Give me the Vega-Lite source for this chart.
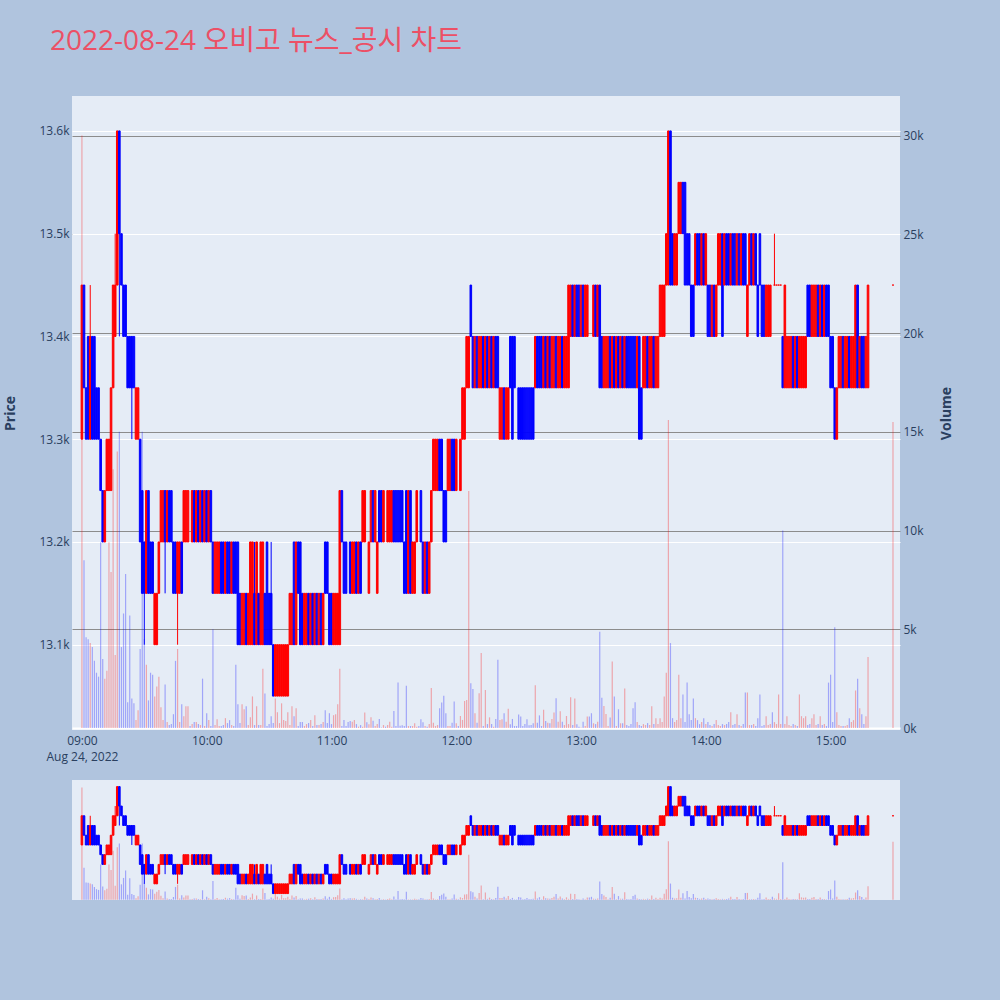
{
"$schema": "https://vega.github.io/schema/vega-lite/v6.json",
"background": "#B0C4DE",
"padding": {"left": 3, "top": 28, "right": 47, "bottom": 100},
"title": {"text": "2022-08-24 오비고 뉴스_공시 차트", "anchor": "start", "dx": 47, "offset": 12, "baseline": "bottom", "fontSize": 28, "fontWeight": "normal", "color": "#EC5066", "font": "Open Sans, Noto Sans CJK KR"},
"config": {
  "view": {"fill": "#E5ECF6", "stroke": null},
  "axis": {"labelFont": "Open Sans", "titleFont": "Open Sans", "labelColor": "#2a3f5f", "titleColor": "#2a3f5f", "labelFontSize": 12, "titleFontSize": 14, "domain": false, "ticks": false}
},
"data": {"values": [
{"t":"2022-08-24 09:00","o":13300,"c":13450,"v":30000},
{"t":"2022-08-24 09:01","o":13450,"c":13350,"v":8500},
{"t":"2022-08-24 09:02","o":13350,"c":13300,"v":4600},
{"t":"2022-08-24 09:03","o":13400,"c":13300,"v":4500},
{"t":"2022-08-24 09:04","o":13300,"c":13400,"h":13450,"l":13300,"v":4300},
{"t":"2022-08-24 09:05","o":13400,"c":13300,"v":4100},
{"t":"2022-08-24 09:06","o":13400,"c":13300,"v":3400},
{"t":"2022-08-24 09:07","o":13350,"c":13300,"v":2800},
{"t":"2022-08-24 09:08","o":13350,"c":13300,"v":2600},
{"t":"2022-08-24 09:09","o":13300,"c":13250,"v":9400},
{"t":"2022-08-24 09:10","o":13250,"c":13200,"v":3500},
{"t":"2022-08-24 09:11","o":13200,"c":13250,"v":2500},
{"t":"2022-08-24 09:12","o":13250,"c":13300,"v":2900},
{"t":"2022-08-24 09:13","o":13250,"c":13300,"v":9400},
{"t":"2022-08-24 09:14","o":13250,"c":13350,"v":7900},
{"t":"2022-08-24 09:15","o":13350,"c":13450,"v":13100},
{"t":"2022-08-24 09:16","o":13400,"c":13450,"h":13500,"l":13400,"v":3700},
{"t":"2022-08-24 09:17","o":13450,"c":13600,"v":14000},
{"t":"2022-08-24 09:18","o":13600,"c":13500,"h":13600,"l":13400,"v":15000},
{"t":"2022-08-24 09:19","o":13500,"c":13450,"v":4100},
{"t":"2022-08-24 09:20","o":13450,"c":13400,"v":5800},
{"t":"2022-08-24 09:21","o":13450,"c":13400,"v":7800},
{"t":"2022-08-24 09:22","o":13400,"c":13350,"v":1300},
{"t":"2022-08-24 09:23","o":13400,"c":13350,"v":5700},
{"t":"2022-08-24 09:24","o":13400,"c":13350,"h":13400,"l":13300,"v":1500},
{"t":"2022-08-24 09:25","o":13400,"c":13350,"v":1250},
{"t":"2022-08-24 09:26","o":13300,"c":13350,"v":400},
{"t":"2022-08-24 09:27","o":13300,"c":13350,"v":900},
{"t":"2022-08-24 09:28","o":13300,"c":13200,"v":4000},
{"t":"2022-08-24 09:29","o":13250,"c":13150,"v":15000},
{"t":"2022-08-24 09:30","o":13200,"c":13150,"h":13200,"l":13100,"v":4500},
{"t":"2022-08-24 09:31","o":13150,"c":13250,"v":3200},
{"t":"2022-08-24 09:32","o":13250,"c":13150,"v":1400},
{"t":"2022-08-24 09:33","o":13200,"c":13150,"v":2800},
{"t":"2022-08-24 09:34","o":13200,"c":13150,"v":2700},
{"t":"2022-08-24 09:35","o":13100,"c":13150,"v":1600},
{"t":"2022-08-24 09:36","o":13100,"c":13150,"v":2100},
{"t":"2022-08-24 09:37","o":13150,"c":13200,"v":2600},
{"t":"2022-08-24 09:38","o":13200,"c":13250,"v":1050},
{"t":"2022-08-24 09:39","o":13200,"c":13250,"v":400},
{"t":"2022-08-24 09:40","o":13250,"c":13200,"h":13250,"l":13150,"v":2200},
{"t":"2022-08-24 09:41","o":13200,"c":13250,"v":300},
{"t":"2022-08-24 09:42","o":13250,"c":13200,"v":150},
{"t":"2022-08-24 09:43","o":13250,"c":13200,"v":200},
{"t":"2022-08-24 09:44","o":13200,"c":13150,"v":700},
{"t":"2022-08-24 09:45","o":13200,"c":13150,"v":3400},
{"t":"2022-08-24 09:46","o":13150,"c":13200,"h":13200,"l":13100,"v":4000},
{"t":"2022-08-24 09:47","o":13150,"c":13200,"v":300},
{"t":"2022-08-24 09:48","o":13200,"c":13150,"v":1200},
{"t":"2022-08-24 09:49","o":13200,"c":13250,"v":600},
{"t":"2022-08-24 09:50","o":13200,"c":13250,"v":1100},
{"t":"2022-08-24 09:51","o":13200,"c":13250,"v":1100},
{"t":"2022-08-24 09:52","v":100},
{"t":"2022-08-24 09:53","o":13200,"c":13250,"v":200},
{"t":"2022-08-24 09:54","o":13250,"c":13200,"v":300},
{"t":"2022-08-24 09:55","o":13200,"c":13250,"v":300},
{"t":"2022-08-24 09:56","o":13250,"c":13200,"v":200},
{"t":"2022-08-24 09:57","o":13200,"c":13250,"v":150},
{"t":"2022-08-24 09:58","o":13250,"c":13200,"v":2500},
{"t":"2022-08-24 09:59","o":13200,"c":13250,"v":100},
{"t":"2022-08-24 10:00","o":13250,"c":13200,"v":750},
{"t":"2022-08-24 10:01","o":13200,"c":13250,"v":400},
{"t":"2022-08-24 10:02","o":13250,"c":13200,"v":100},
{"t":"2022-08-24 10:03","o":13200,"c":13150,"v":5000},
{"t":"2022-08-24 10:04","o":13150,"c":13200,"v":150},
{"t":"2022-08-24 10:05","o":13150,"c":13200,"v":450},
{"t":"2022-08-24 10:06","o":13150,"c":13200,"v":100},
{"t":"2022-08-24 10:07","o":13200,"c":13150,"v":100},
{"t":"2022-08-24 10:08","o":13200,"c":13150,"v":150},
{"t":"2022-08-24 10:09","o":13150,"c":13200,"v":500},
{"t":"2022-08-24 10:10","o":13200,"c":13150,"v":250},
{"t":"2022-08-24 10:11","o":13200,"c":13150,"v":400},
{"t":"2022-08-24 10:12","o":13150,"c":13200,"v":150},
{"t":"2022-08-24 10:13","o":13200,"c":13150,"v":100},
{"t":"2022-08-24 10:14","o":13200,"c":13150,"v":3200},
{"t":"2022-08-24 10:15","o":13200,"c":13100,"v":1200},
{"t":"2022-08-24 10:16","o":13150,"c":13100,"v":250},
{"t":"2022-08-24 10:17","o":13100,"c":13150,"v":1200},
{"t":"2022-08-24 10:18","o":13100,"c":13150,"v":950},
{"t":"2022-08-24 10:19","o":13150,"c":13100,"v":1100},
{"t":"2022-08-24 10:20","o":13100,"c":13150,"v":150},
{"t":"2022-08-24 10:21","o":13100,"c":13200,"v":550},
{"t":"2022-08-24 10:22","o":13100,"c":13200,"v":1600},
{"t":"2022-08-24 10:23","o":13150,"c":13100,"h":13200,"l":13100,"v":150},
{"t":"2022-08-24 10:24","o":13100,"c":13200,"v":1100},
{"t":"2022-08-24 10:25","o":13150,"c":13100,"v":150},
{"t":"2022-08-24 10:26","o":13100,"c":13200,"v":150},
{"t":"2022-08-24 10:27","o":13100,"c":13200,"v":3000},
{"t":"2022-08-24 10:28","o":13150,"c":13100,"v":1750},
{"t":"2022-08-24 10:29","o":13200,"c":13100,"v":100},
{"t":"2022-08-24 10:30","o":13150,"c":13100,"v":200},
{"t":"2022-08-24 10:31","o":13150,"c":13100,"h":13200,"l":13100,"v":600},
{"t":"2022-08-24 10:32","o":13100,"c":13050,"v":250},
{"t":"2022-08-24 10:33","o":13050,"c":13100,"v":1500},
{"t":"2022-08-24 10:34","o":13050,"c":13100,"v":800},
{"t":"2022-08-24 10:35","o":13050,"c":13100,"v":250},
{"t":"2022-08-24 10:36","o":13050,"c":13100,"v":1250},
{"t":"2022-08-24 10:37","o":13050,"c":13100,"v":400},
{"t":"2022-08-24 10:38","o":13050,"c":13100,"v":350},
{"t":"2022-08-24 10:39","o":13050,"c":13100,"v":800},
{"t":"2022-08-24 10:40","o":13100,"c":13150,"v":150},
{"t":"2022-08-24 10:41","o":13100,"c":13150,"v":1100},
{"t":"2022-08-24 10:42","o":13200,"c":13100,"v":600},
{"t":"2022-08-24 10:43","o":13100,"c":13200,"v":1000},
{"t":"2022-08-24 10:44","o":13200,"c":13150,"v":100},
{"t":"2022-08-24 10:45","o":13200,"c":13100,"v":300},
{"t":"2022-08-24 10:46","o":13150,"c":13100,"v":300},
{"t":"2022-08-24 10:47","o":13100,"c":13150,"v":100},
{"t":"2022-08-24 10:48","o":13100,"c":13150,"v":200},
{"t":"2022-08-24 10:49","o":13150,"c":13100,"v":250},
{"t":"2022-08-24 10:50","o":13100,"c":13150,"v":400},
{"t":"2022-08-24 10:51","o":13150,"c":13100,"v":100},
{"t":"2022-08-24 10:52","o":13100,"c":13150,"v":650},
{"t":"2022-08-24 10:53","o":13150,"c":13100,"v":150},
{"t":"2022-08-24 10:54","o":13100,"c":13150,"v":150},
{"t":"2022-08-24 10:55","o":13150,"c":13100,"v":200},
{"t":"2022-08-24 10:56","o":13100,"c":13150,"v":300},
{"t":"2022-08-24 10:57","o":13200,"c":13150,"v":900},
{"t":"2022-08-24 10:58","o":13200,"c":13150,"v":250},
{"t":"2022-08-24 10:59","o":13150,"c":13100,"v":750},
{"t":"2022-08-24 11:00","o":13150,"c":13100,"v":200},
{"t":"2022-08-24 11:01","o":13100,"c":13150,"v":650},
{"t":"2022-08-24 11:02","o":13100,"c":13150,"v":700},
{"t":"2022-08-24 11:03","o":13100,"c":13150,"v":1200},
{"t":"2022-08-24 11:04","o":13100,"c":13250,"v":3000},
{"t":"2022-08-24 11:05","o":13250,"c":13200,"v":100},
{"t":"2022-08-24 11:06","o":13200,"c":13150,"v":400},
{"t":"2022-08-24 11:07","o":13200,"c":13150,"v":100},
{"t":"2022-08-24 11:08","v":300},
{"t":"2022-08-24 11:09","o":13200,"c":13150,"v":350},
{"t":"2022-08-24 11:10","o":13150,"c":13200,"v":320},
{"t":"2022-08-24 11:11","o":13150,"c":13200,"v":400},
{"t":"2022-08-24 11:12","o":13200,"c":13150,"v":200},
{"t":"2022-08-24 11:13","o":13150,"c":13200,"v":70},
{"t":"2022-08-24 11:14","o":13200,"c":13150,"v":150},
{"t":"2022-08-24 11:15","o":13200,"c":13250,"v":70},
{"t":"2022-08-24 11:16","o":13200,"c":13250,"v":780},
{"t":"2022-08-24 11:17","v":290},
{"t":"2022-08-24 11:18","o":13150,"c":13200,"v":190},
{"t":"2022-08-24 11:19","o":13200,"c":13250,"v":540},
{"t":"2022-08-24 11:20","o":13250,"c":13200,"v":370},
{"t":"2022-08-24 11:21","o":13200,"c":13250,"v":100},
{"t":"2022-08-24 11:22","o":13150,"c":13200,"v":200},
{"t":"2022-08-24 11:23","o":13250,"c":13200,"v":460},
{"t":"2022-08-24 11:24","o":13250,"c":13200,"v":30},
{"t":"2022-08-24 11:25","o":13200,"c":13250,"v":150},
{"t":"2022-08-24 11:26","v":70},
{"t":"2022-08-24 11:27","o":13200,"c":13250,"v":150},
{"t":"2022-08-24 11:28","o":13200,"c":13250,"v":320},
{"t":"2022-08-24 11:29","o":13200,"c":13250,"v":70},
{"t":"2022-08-24 11:30","o":13250,"c":13200,"v":860},
{"t":"2022-08-24 11:31","o":13250,"c":13200,"v":100},
{"t":"2022-08-24 11:32","o":13250,"c":13200,"v":2300},
{"t":"2022-08-24 11:33","o":13250,"c":13200,"v":120},
{"t":"2022-08-24 11:34","o":13250,"c":13200,"v":140},
{"t":"2022-08-24 11:35","o":13200,"c":13150,"v":100},
{"t":"2022-08-24 11:36","o":13250,"c":13150,"v":2140},
{"t":"2022-08-24 11:37","o":13150,"c":13250,"v":100},
{"t":"2022-08-24 11:38","o":13250,"c":13150,"v":100},
{"t":"2022-08-24 11:39","o":13150,"c":13200,"v":100},
{"t":"2022-08-24 11:40","o":13150,"c":13200,"v":240},
{"t":"2022-08-24 11:41","o":13200,"c":13250,"v":70},
{"t":"2022-08-24 11:42","v":100},
{"t":"2022-08-24 11:43","o":13250,"c":13200,"v":440},
{"t":"2022-08-24 11:44","o":13200,"c":13150,"v":290},
{"t":"2022-08-24 11:45","o":13150,"c":13200,"v":100},
{"t":"2022-08-24 11:46","o":13200,"c":13150,"v":70},
{"t":"2022-08-24 11:47","o":13150,"c":13200,"v":200},
{"t":"2022-08-24 11:48","o":13200,"c":13250,"v":2030},
{"t":"2022-08-24 11:49","o":13250,"c":13300,"v":270},
{"t":"2022-08-24 11:50","o":13250,"c":13300,"v":100},
{"t":"2022-08-24 11:51","o":13250,"c":13300,"v":150},
{"t":"2022-08-24 11:52","o":13300,"c":13250,"v":1000},
{"t":"2022-08-24 11:53","o":13300,"c":13250,"v":1290},
{"t":"2022-08-24 11:54","o":13250,"c":13200,"v":1630},
{"t":"2022-08-24 11:55","o":13250,"c":13200,"v":750},
{"t":"2022-08-24 11:56","o":13250,"c":13300,"v":100},
{"t":"2022-08-24 11:57","o":13250,"c":13300,"v":100},
{"t":"2022-08-24 11:58","o":13300,"c":13250,"v":270},
{"t":"2022-08-24 11:59","o":13300,"c":13250,"v":1340},
{"t":"2022-08-24 12:00","o":13250,"c":13300,"v":240},
{"t":"2022-08-24 12:01","v":100},
{"t":"2022-08-24 12:02","o":13250,"c":13300,"v":610},
{"t":"2022-08-24 12:03","o":13300,"c":13350,"v":410},
{"t":"2022-08-24 12:04","o":13300,"c":13350,"v":1370},
{"t":"2022-08-24 12:05","o":13350,"c":13400,"v":1420},
{"t":"2022-08-24 12:06","o":13350,"c":13400,"v":12000},
{"t":"2022-08-24 12:07","o":13450,"c":13400,"v":2270},
{"t":"2022-08-24 12:08","o":13400,"c":13350,"v":1970},
{"t":"2022-08-24 12:09","o":13350,"c":13400,"v":750},
{"t":"2022-08-24 12:10","o":13400,"c":13350,"v":270},
{"t":"2022-08-24 12:11","o":13350,"c":13400,"v":1760},
{"t":"2022-08-24 12:12","o":13350,"c":13400,"v":3800},
{"t":"2022-08-24 12:13","o":13400,"c":13350,"v":100},
{"t":"2022-08-24 12:14","o":13350,"c":13400,"v":1930},
{"t":"2022-08-24 12:15","o":13400,"c":13350,"v":200},
{"t":"2022-08-24 12:16","o":13350,"c":13400,"v":540},
{"t":"2022-08-24 12:17","o":13400,"c":13350,"v":200},
{"t":"2022-08-24 12:18","o":13350,"c":13400,"v":70},
{"t":"2022-08-24 12:19","o":13400,"c":13350,"v":460},
{"t":"2022-08-24 12:20","o":13400,"c":13350,"v":3460},
{"t":"2022-08-24 12:21","o":13300,"c":13350,"v":410},
{"t":"2022-08-24 12:22","o":13300,"c":13350,"v":440},
{"t":"2022-08-24 12:23","o":13350,"c":13300,"v":750},
{"t":"2022-08-24 12:24","o":13300,"c":13350,"v":320},
{"t":"2022-08-24 12:25","o":13300,"c":13350,"v":980},
{"t":"2022-08-24 12:26","o":13400,"c":13350,"v":190},
{"t":"2022-08-24 12:27","o":13400,"c":13300,"v":460},
{"t":"2022-08-24 12:28","o":13400,"c":13350,"v":100},
{"t":"2022-08-24 12:29","v":100},
{"t":"2022-08-24 12:30","o":13350,"c":13300,"v":690},
{"t":"2022-08-24 12:31","o":13350,"c":13300,"v":580},
{"t":"2022-08-24 12:32","o":13350,"c":13300,"v":100},
{"t":"2022-08-24 12:33","o":13350,"c":13300,"v":200},
{"t":"2022-08-24 12:34","o":13350,"c":13300,"v":440},
{"t":"2022-08-24 12:35","o":13350,"c":13300,"v":140},
{"t":"2022-08-24 12:36","o":13350,"c":13300,"v":150},
{"t":"2022-08-24 12:37","o":13350,"c":13300,"v":240},
{"t":"2022-08-24 12:38","o":13350,"c":13400,"v":2170},
{"t":"2022-08-24 12:39","o":13400,"c":13350,"v":270},
{"t":"2022-08-24 12:40","o":13400,"c":13350,"v":640},
{"t":"2022-08-24 12:41","o":13400,"c":13350,"v":100},
{"t":"2022-08-24 12:42","o":13350,"c":13400,"v":920},
{"t":"2022-08-24 12:43","o":13400,"c":13350,"v":360},
{"t":"2022-08-24 12:44","o":13350,"c":13400,"v":270},
{"t":"2022-08-24 12:45","o":13400,"c":13350,"v":240},
{"t":"2022-08-24 12:46","o":13350,"c":13400,"v":460},
{"t":"2022-08-24 12:47","o":13350,"c":13400,"v":780},
{"t":"2022-08-24 12:48","o":13400,"c":13350,"v":1510},
{"t":"2022-08-24 12:49","o":13350,"c":13400,"v":320},
{"t":"2022-08-24 12:50","o":13350,"c":13400,"v":850},
{"t":"2022-08-24 12:51","o":13400,"c":13350,"v":320},
{"t":"2022-08-24 12:52","o":13350,"c":13400,"v":150},
{"t":"2022-08-24 12:53","o":13350,"c":13400,"v":610},
{"t":"2022-08-24 12:54","o":13350,"c":13450,"v":200},
{"t":"2022-08-24 12:55","o":13400,"c":13450,"v":1560},
{"t":"2022-08-24 12:56","o":13450,"c":13400,"v":150},
{"t":"2022-08-24 12:57","o":13400,"c":13450,"v":1490},
{"t":"2022-08-24 12:58","o":13450,"c":13400,"v":190},
{"t":"2022-08-24 12:59","o":13450,"c":13400,"v":70},
{"t":"2022-08-24 13:00","o":13400,"c":13450,"v":30},
{"t":"2022-08-24 13:01","o":13450,"c":13400,"v":320},
{"t":"2022-08-24 13:02","o":13400,"c":13450,"v":100},
{"t":"2022-08-24 13:03","o":13400,"c":13450,"v":580},
{"t":"2022-08-24 13:04","v":580},
{"t":"2022-08-24 13:05","v":750},
{"t":"2022-08-24 13:06","o":13400,"c":13450,"v":240},
{"t":"2022-08-24 13:07","o":13450,"c":13400,"v":200},
{"t":"2022-08-24 13:08","o":13400,"c":13450,"v":320},
{"t":"2022-08-24 13:09","o":13450,"c":13350,"v":4880},
{"t":"2022-08-24 13:10","o":13400,"c":13350,"v":1530},
{"t":"2022-08-24 13:11","o":13350,"c":13400,"v":1120},
{"t":"2022-08-24 13:12","o":13350,"c":13400,"v":710},
{"t":"2022-08-24 13:13","o":13350,"c":13400,"v":100},
{"t":"2022-08-24 13:14","o":13400,"c":13350,"v":530},
{"t":"2022-08-24 13:15","o":13350,"c":13400,"v":3370},
{"t":"2022-08-24 13:16","o":13400,"c":13350,"v":1590},
{"t":"2022-08-24 13:17","o":13350,"c":13400,"v":100},
{"t":"2022-08-24 13:18","o":13400,"c":13350,"v":950},
{"t":"2022-08-24 13:19","o":13350,"c":13400,"v":240},
{"t":"2022-08-24 13:20","o":13400,"c":13350,"v":240},
{"t":"2022-08-24 13:21","o":13350,"c":13400,"v":2000},
{"t":"2022-08-24 13:22","o":13400,"c":13350,"v":150},
{"t":"2022-08-24 13:23","o":13400,"c":13350,"v":100},
{"t":"2022-08-24 13:24","o":13400,"c":13350,"v":200},
{"t":"2022-08-24 13:25","o":13400,"c":13350,"v":1000},
{"t":"2022-08-24 13:26","o":13400,"c":13350,"v":1300},
{"t":"2022-08-24 13:27","o":13350,"c":13400,"v":300},
{"t":"2022-08-24 13:28","o":13400,"c":13300,"v":150},
{"t":"2022-08-24 13:29","o":13350,"c":13300,"v":100},
{"t":"2022-08-24 13:30","o":13350,"c":13400,"v":200},
{"t":"2022-08-24 13:31","o":13350,"c":13400,"v":150},
{"t":"2022-08-24 13:32","o":13400,"c":13350,"v":250},
{"t":"2022-08-24 13:33","o":13350,"c":13400,"v":150},
{"t":"2022-08-24 13:34","o":13350,"c":13400,"v":1100},
{"t":"2022-08-24 13:35","o":13400,"c":13350,"v":200},
{"t":"2022-08-24 13:36","o":13350,"c":13400,"v":500},
{"t":"2022-08-24 13:37","o":13350,"c":13400,"v":200},
{"t":"2022-08-24 13:38","o":13400,"c":13450,"v":500},
{"t":"2022-08-24 13:39","o":13400,"c":13450,"v":300},
{"t":"2022-08-24 13:40","o":13400,"c":13450,"v":1600},
{"t":"2022-08-24 13:41","o":13450,"c":13500,"v":2800},
{"t":"2022-08-24 13:42","o":13450,"c":13600,"v":15600},
{"t":"2022-08-24 13:43","o":13600,"c":13450,"v":4300},
{"t":"2022-08-24 13:44","o":13500,"c":13450,"v":500},
{"t":"2022-08-24 13:45","o":13450,"c":13500,"v":300},
{"t":"2022-08-24 13:46","o":13450,"c":13500,"v":400},
{"t":"2022-08-24 13:47","o":13500,"c":13550,"v":2700},
{"t":"2022-08-24 13:48","o":13500,"c":13550,"v":500},
{"t":"2022-08-24 13:49","o":13550,"c":13500,"v":1700},
{"t":"2022-08-24 13:50","o":13550,"c":13450,"v":300},
{"t":"2022-08-24 13:51","o":13500,"c":13450,"v":2300},
{"t":"2022-08-24 13:52","o":13500,"c":13450,"v":700},
{"t":"2022-08-24 13:53","o":13450,"c":13400,"v":400},
{"t":"2022-08-24 13:54","o":13450,"c":13400,"v":1500},
{"t":"2022-08-24 13:55","o":13450,"c":13500,"v":500},
{"t":"2022-08-24 13:56","o":13500,"c":13450,"v":400},
{"t":"2022-08-24 13:57","o":13500,"c":13450,"v":200},
{"t":"2022-08-24 13:58","o":13450,"c":13500,"v":300},
{"t":"2022-08-24 13:59","o":13500,"c":13450,"v":500},
{"t":"2022-08-24 14:00","o":13450,"c":13500,"v":200},
{"t":"2022-08-24 14:01","o":13450,"c":13400,"v":300},
{"t":"2022-08-24 14:02","o":13450,"c":13400,"v":150},
{"t":"2022-08-24 14:03","o":13400,"c":13450,"v":100},
{"t":"2022-08-24 14:04","o":13450,"c":13400,"v":200},
{"t":"2022-08-24 14:05","o":13400,"c":13450,"v":400},
{"t":"2022-08-24 14:06","o":13450,"c":13500,"v":150},
{"t":"2022-08-24 14:07","o":13450,"c":13500,"v":100},
{"t":"2022-08-24 14:08","o":13500,"c":13400,"v":200},
{"t":"2022-08-24 14:09","o":13450,"c":13500,"v":150},
{"t":"2022-08-24 14:10","o":13500,"c":13450,"v":200},
{"t":"2022-08-24 14:11","o":13500,"c":13450,"v":300},
{"t":"2022-08-24 14:12","o":13450,"c":13500,"v":800},
{"t":"2022-08-24 14:13","o":13500,"c":13450,"v":150},
{"t":"2022-08-24 14:14","o":13500,"c":13450,"v":200},
{"t":"2022-08-24 14:15","o":13450,"c":13500,"v":700},
{"t":"2022-08-24 14:16","o":13500,"c":13450,"v":150},
{"t":"2022-08-24 14:17","o":13450,"c":13500,"v":100},
{"t":"2022-08-24 14:18","o":13500,"c":13450,"v":200},
{"t":"2022-08-24 14:19","o":13500,"c":13450,"v":1800},
{"t":"2022-08-24 14:20","o":13400,"c":13450,"v":1800},
{"t":"2022-08-24 14:21","o":13450,"c":13500,"v":150},
{"t":"2022-08-24 14:22","o":13500,"c":13450,"v":150},
{"t":"2022-08-24 14:23","o":13450,"c":13500,"v":200},
{"t":"2022-08-24 14:24","o":13500,"c":13450,"v":100},
{"t":"2022-08-24 14:25","o":13450,"c":13400,"v":500},
{"t":"2022-08-24 14:26","o":13500,"c":13450,"v":1700},
{"t":"2022-08-24 14:27","o":13450,"c":13400,"v":100},
{"t":"2022-08-24 14:28","o":13450,"c":13400,"v":150},
{"t":"2022-08-24 14:29","o":13400,"c":13450,"v":600},
{"t":"2022-08-24 14:30","o":13400,"c":13450,"v":150},
{"t":"2022-08-24 14:31","o":13400,"c":13450,"v":200},
{"t":"2022-08-24 14:32","v":800},
{"t":"2022-08-24 14:33","o":13450,"c":13450,"h":13500,"l":13450,"v":300},
{"t":"2022-08-24 14:34","o":13450,"c":13450,"v":200},
{"t":"2022-08-24 14:35","o":13450,"c":13450,"v":1700},
{"t":"2022-08-24 14:36","o":13450,"c":13450,"v":200},
{"t":"2022-08-24 14:37","o":13400,"c":13350,"v":10000},
{"t":"2022-08-24 14:38","o":13350,"c":13450,"v":200},
{"t":"2022-08-24 14:39","o":13350,"c":13400,"v":600},
{"t":"2022-08-24 14:40","o":13350,"c":13400,"v":150},
{"t":"2022-08-24 14:41","o":13350,"c":13400,"v":100},
{"t":"2022-08-24 14:42","o":13400,"c":13350,"v":200},
{"t":"2022-08-24 14:43","o":13350,"c":13400,"v":150},
{"t":"2022-08-24 14:44","o":13400,"c":13350,"v":100},
{"t":"2022-08-24 14:45","o":13350,"c":13400,"v":1700},
{"t":"2022-08-24 14:46","o":13350,"c":13400,"v":600},
{"t":"2022-08-24 14:47","o":13350,"c":13400,"v":500},
{"t":"2022-08-24 14:48","o":13350,"c":13400,"v":600},
{"t":"2022-08-24 14:49","o":13450,"c":13400,"v":150},
{"t":"2022-08-24 14:50","o":13450,"c":13400,"v":200},
{"t":"2022-08-24 14:51","o":13400,"c":13450,"v":500},
{"t":"2022-08-24 14:52","o":13400,"c":13450,"v":700},
{"t":"2022-08-24 14:53","o":13400,"c":13450,"v":150},
{"t":"2022-08-24 14:54","o":13450,"c":13400,"v":200},
{"t":"2022-08-24 14:55","o":13400,"c":13450,"v":600},
{"t":"2022-08-24 14:56","o":13450,"c":13400,"v":150},
{"t":"2022-08-24 14:57","o":13400,"c":13450,"v":200},
{"t":"2022-08-24 14:58","o":13450,"c":13400,"v":100},
{"t":"2022-08-24 14:59","o":13450,"c":13400,"v":2300},
{"t":"2022-08-24 15:00","o":13400,"c":13350,"v":2700},
{"t":"2022-08-24 15:01","o":13400,"c":13350,"v":300},
{"t":"2022-08-24 15:02","o":13350,"c":13300,"v":5100},
{"t":"2022-08-24 15:03","o":13300,"c":13350,"v":800},
{"t":"2022-08-24 15:04","o":13350,"c":13400,"v":150},
{"t":"2022-08-24 15:05","o":13350,"c":13400,"v":100},
{"t":"2022-08-24 15:06","o":13400,"c":13350,"v":100},
{"t":"2022-08-24 15:07","o":13350,"c":13400,"v":100},
{"t":"2022-08-24 15:08","o":13350,"c":13400,"v":150},
{"t":"2022-08-24 15:09","o":13400,"c":13350,"v":500},
{"t":"2022-08-24 15:10","o":13350,"c":13400,"v":300},
{"t":"2022-08-24 15:11","o":13350,"c":13400,"v":400},
{"t":"2022-08-24 15:12","o":13350,"c":13450,"v":1900},
{"t":"2022-08-24 15:13","o":13450,"c":13350,"v":2500},
{"t":"2022-08-24 15:14","o":13350,"c":13400,"v":1000},
{"t":"2022-08-24 15:15","o":13400,"c":13350,"v":700},
{"t":"2022-08-24 15:16","o":13400,"c":13350,"v":200},
{"t":"2022-08-24 15:17","o":13350,"c":13400,"v":600},
{"t":"2022-08-24 15:18","o":13350,"c":13450,"v":3600},
{"t":"2022-08-24 15:30","o":13450,"c":13450,"v":15500}
]},
"spacing": 50,
"bounds": "flush",
"vconcat": [
{
  "width": 828, "height": 634,
  "encoding": {
    "x": {"field": "t", "type": "temporal",
      "scale": {"domain": [{"year": 2022, "month": 8, "date": 24, "hours": 8, "minutes": 57, "seconds": 38}, {"year": 2022, "month": 8, "date": 24, "hours": 15, "minutes": 30, "seconds": 58}]},
      "axis": {"title": null, "grid": false, "labelPadding": 5, "labelLineHeight": 16, "labelOverlap": false, "labelBound": false, "labelFlush": false,
        "values": [{"year": 2022, "month": 8, "date": 24, "hours": 9}, {"year": 2022, "month": 8, "date": 24, "hours": 10}, {"year": 2022, "month": 8, "date": 24, "hours": 11}, {"year": 2022, "month": 8, "date": 24, "hours": 12}, {"year": 2022, "month": 8, "date": 24, "hours": 13}, {"year": 2022, "month": 8, "date": 24, "hours": 14}, {"year": 2022, "month": 8, "date": 24, "hours": 15}],
        "labelExpr": "datum.index == 0 ? [timeFormat(datum.value, '%H:%M'), timeFormat(datum.value, '%b %d, %Y')] : timeFormat(datum.value, '%H:%M')"}}
  },
  "layer": [
    {
      "mark": {"type": "bar", "width": 1.2, "opacity": 0.3, "clip": true},
      "encoding": {
        "y": {"field": "v", "type": "quantitative", "scale": {"domain": [-100, 32000], "nice": false},
          "axis": {"orient": "right", "title": "Volume", "titleFontWeight": "bold", "values": [0, 5000, 10000, 15000, 20000, 25000, 30000], "format": "~s",
            "grid": true, "gridColor": {"condition": {"test": "datum.value == 0", "value": "#FFFFFF"}, "value": "#8C8C8C"},
            "gridWidth": {"condition": {"test": "datum.value == 0", "value": 2}, "value": 1},
            "labelPadding": 3, "minExtent": 33, "maxExtent": 33, "titlePadding": 6, "titleAngle": 270, "titleBaseline": "top"}},
        "color": {"condition": {"test": "datum.c >= datum.o", "value": "#FF0000"}, "value": "#0000FF"}
      }
    },
    {
      "layer": [
        {
          "transform": [{"filter": "datum.h != null"}],
          "mark": {"type": "rule", "strokeWidth": 1, "clip": true},
          "encoding": {
            "y": {"field": "l", "type": "quantitative", "scale": {"domain": [13017, 13634], "nice": false, "zero": false},
              "axis": {"orient": "left", "title": "Price", "titleFontWeight": "bold", "values": [13100, 13200, 13300, 13400, 13500, 13600], "format": "~s", "grid": true, "gridColor": "#FFFFFF", "gridWidth": 1, "labelPadding": 3, "minExtent": 47, "maxExtent": 47, "titlePadding": 8}},
            "y2": {"field": "h"},
            "color": {"condition": {"test": "datum.c >= datum.o", "value": "#FF0000"}, "value": "#0000FF"}
          }
        },
        {
          "mark": {"type": "bar", "width": 1.6, "strokeWidth": 1, "clip": true},
          "encoding": {
            "y": {"field": "o", "type": "quantitative", "scale": {"domain": [13017, 13634], "nice": false, "zero": false},
              "axis": {"orient": "left", "title": "Price", "titleFontWeight": "bold", "values": [13100, 13200, 13300, 13400, 13500, 13600], "format": "~s", "grid": true, "gridColor": "#FFFFFF", "gridWidth": 1, "labelPadding": 3, "minExtent": 47, "maxExtent": 47, "titlePadding": 8}},
            "y2": {"field": "c"},
            "color": {"condition": {"test": "datum.c >= datum.o", "value": "#FF0000"}, "value": "#0000FF"},
            "stroke": {"condition": {"test": "datum.c >= datum.o", "value": "#FF0000"}, "value": "#0000FF"}
          }
        }
      ]
    }
  ],
  "resolve": {"scale": {"y": "independent"}, "axis": {"y": "independent"}}
},
{
  "width": 828, "height": 120,
  "encoding": {
    "x": {"field": "t", "type": "temporal",
      "scale": {"domain": [{"year": 2022, "month": 8, "date": 24, "hours": 8, "minutes": 57, "seconds": 38}, {"year": 2022, "month": 8, "date": 24, "hours": 15, "minutes": 30, "seconds": 58}]},
      "axis": null}
  },
  "layer": [
    {
      "mark": {"type": "bar", "width": 1.2, "opacity": 0.3, "clip": true},
      "encoding": {
        "y": {"field": "v", "type": "quantitative", "scale": {"domain": [-100, 32000], "nice": false}, "axis": null},
        "color": {"condition": {"test": "datum.c >= datum.o", "value": "#FF0000"}, "value": "#0000FF"}
      }
    },
    {
      "layer": [
        {
          "transform": [{"filter": "datum.h != null"}],
          "mark": {"type": "rule", "strokeWidth": 1, "clip": true},
          "encoding": {
            "y": {"field": "l", "type": "quantitative", "scale": {"domain": [13017, 13634], "nice": false, "zero": false}, "axis": null},
            "y2": {"field": "h"},
            "color": {"condition": {"test": "datum.c >= datum.o", "value": "#FF0000"}, "value": "#0000FF"}
          }
        },
        {
          "mark": {"type": "bar", "width": 1.6, "strokeWidth": 1, "clip": true},
          "encoding": {
            "y": {"field": "o", "type": "quantitative", "scale": {"domain": [13017, 13634], "nice": false, "zero": false}, "axis": null},
            "y2": {"field": "c"},
            "color": {"condition": {"test": "datum.c >= datum.o", "value": "#FF0000"}, "value": "#0000FF"},
            "stroke": {"condition": {"test": "datum.c >= datum.o", "value": "#FF0000"}, "value": "#0000FF"}
          }
        }
      ]
    }
  ],
  "resolve": {"scale": {"y": "independent"}}
}
]
}
